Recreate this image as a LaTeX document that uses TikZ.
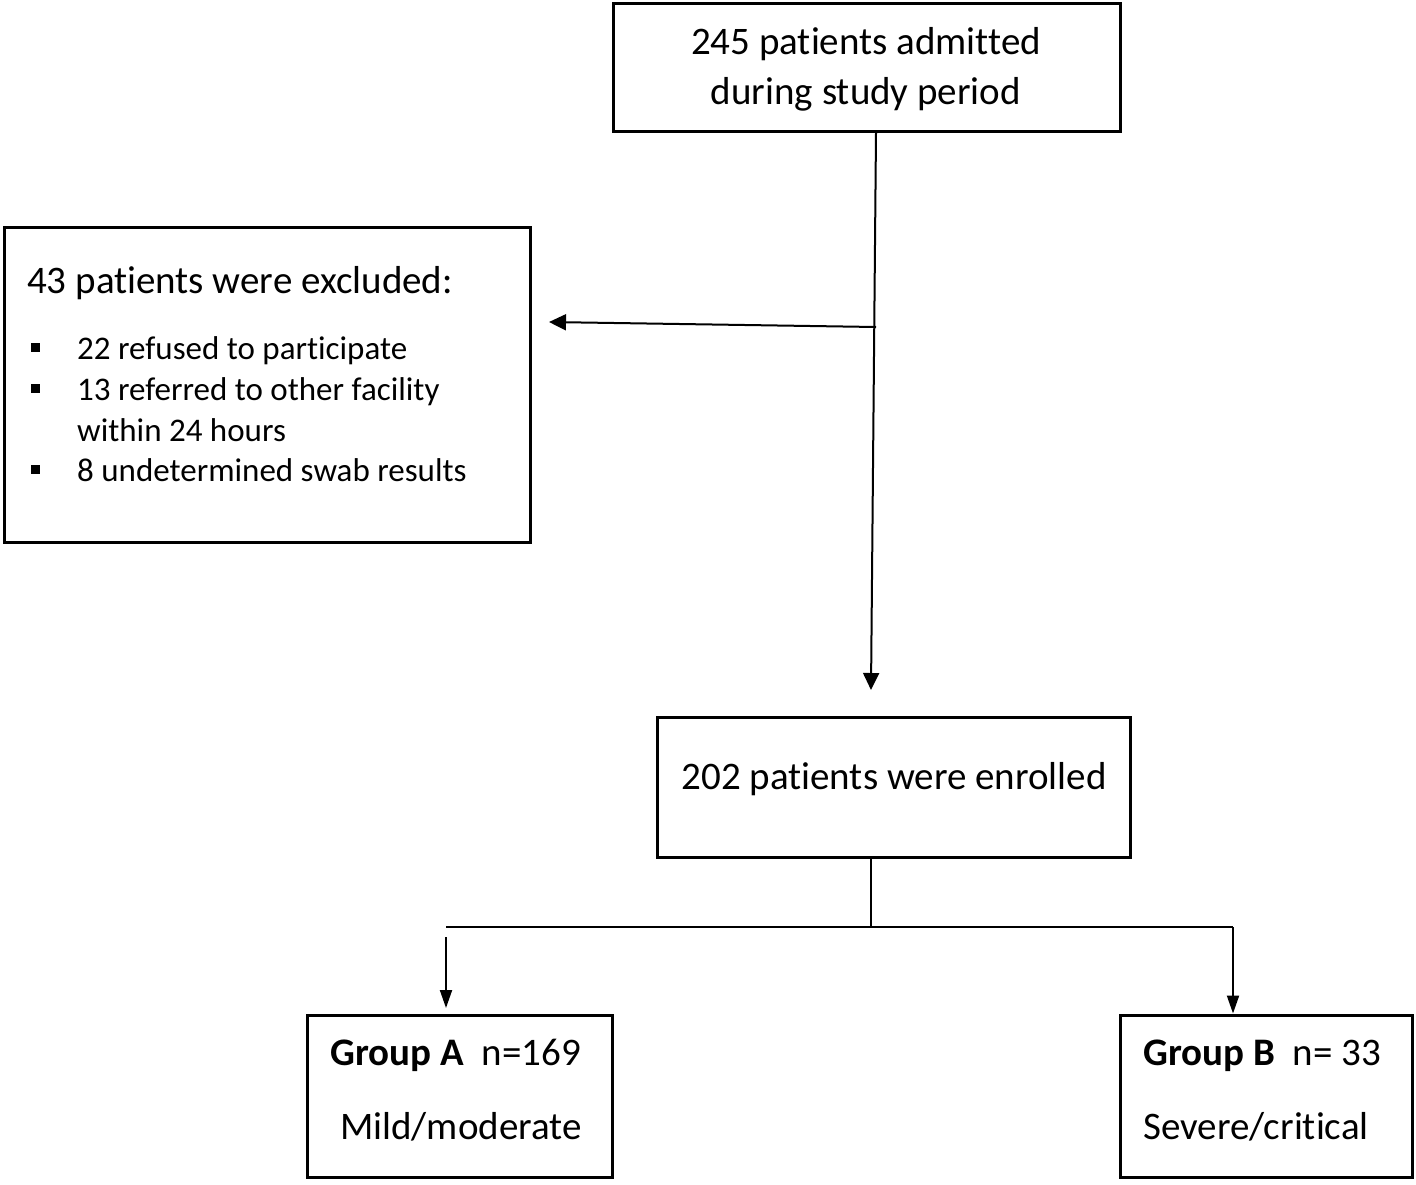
\documentclass[tikz,border=0pt]{standalone}
\usepackage{fontspec}
\setmainfont[Ligatures=NoCommon]{Carlito}
\usetikzlibrary{arrows.meta}
\begin{document}
\begin{tikzpicture}[x=1pt,y=-1pt,
  box/.style={draw=black,line width=3pt,inner sep=0pt,minimum width=#1},
  txt/.style={inner sep=0pt,font=\fontsize{39}{51}\selectfont},
  smalltxt/.style={inner sep=0pt,font=\fontsize{33}{41}\selectfont},
  conn/.style={line width=2pt},
  thin/.style={line width=1.3pt},
  bigtip/.style={-{Triangle[length=17pt,width=16pt]}},
  smalltip/.style={-{Triangle[length=18pt,width=12pt]}},
  bul/.style={fill=black,inner sep=0pt,minimum size=9pt}]
\useasboundingbox (0,0) rectangle (1416,1184);
% boxes
\node[box=507pt,minimum height=128pt] (top) at (866.5,67) {};
\node[box=526pt,minimum height=315pt] (excl) at (267,384.5) {};
\node[box=473pt,minimum height=140pt] (enr) at (893.5,787) {};
\node[box=305pt,minimum height=162pt] (ga) at (459.5,1096) {};
\node[box=292pt,minimum height=162pt] (gb) at (1266,1096) {};
% texts
\node[txt,anchor=base] (t1) at (866,54) {245 patients admitted};
\node[txt,anchor=base] (t2) at (866,104) {during study period};
\node[txt,anchor=base west] (e0) at (27,293) {43 patients were excluded:};
\node[smalltxt,anchor=base west] (e1) at (77,359) {22 refused to participate};
\node[smalltxt,anchor=base west] (e2) at (77,400) {13 referred to other facility};
\node[smalltxt,anchor=base west] (e3) at (77,441) {within 24 hours};
\node[smalltxt,anchor=base west] (e4) at (77,481) {8 undetermined swab results};
\node[bul] (b1) at (35,347) {};
\node[bul] (b2) at (35,388) {};
\node[bul] (b3) at (35,469) {};
\node[txt,anchor=base] (en) at (894,789) {202 patients were enrolled};
\node[txt,anchor=base west] (ga1) at (330,1065) {\textbf{Group A}\hspace{18pt}n=169};
\node[txt,anchor=base west] (ga2) at (340,1139) {Mild/moderate};
\node[txt,anchor=base west] (gb1) at (1143,1065) {\textbf{Group B}\hspace{18pt}n=\ 33};
\node[txt,anchor=base west] (gb2) at (1143,1139) {Severe/critical};
% connector coordinates
\coordinate (j1) at (876,327);
\coordinate (tipE) at (549,322);
\coordinate (tipEnr) at (871,690);
\coordinate (j2) at (871,927);
\coordinate (hl) at (446,927);
\coordinate (hr) at (1233,927);
\coordinate (al) at (446,937);
% connectors
\draw[conn,bigtip] (top.south -| j1) -- (tipEnr);
\draw[conn,bigtip] (j1) -- (tipE);
\draw[thin] (enr.south -| j2) -- (j2);
\draw[thin] (hl) -- (hr);
\draw[conn,smalltip] (al) -- (446,1008);
\draw[conn,smalltip] (hr) -- (gb.north -| hr);
\end{tikzpicture}
\end{document}
